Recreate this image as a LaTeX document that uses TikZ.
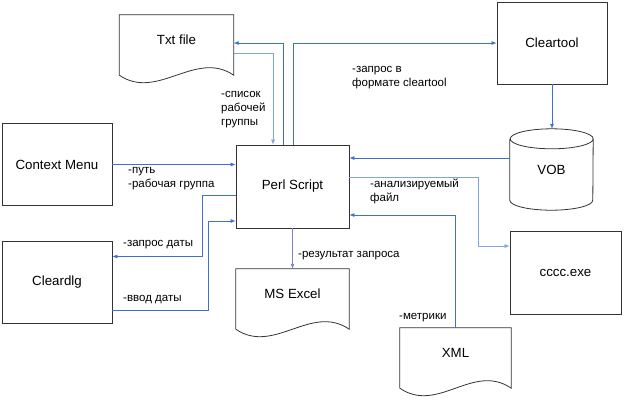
\documentclass[tikz,border=0pt]{standalone}
\usepackage{fontspec}
\setmainfont{Liberation Sans}
\usetikzlibrary{arrows.meta, positioning}

\definecolor{linkblue}{RGB}{62,112,205}
\definecolor{linkpale}{RGB}{125,165,225}
\definecolor{linkviolet}{RGB}{128,128,212}

\begin{document}
\begin{tikzpicture}[
  x=1pt, y=-1pt,
  font=\fontsize{13.3}{16}\selectfont,
  box/.style={draw=black!80, line width=0.8pt, align=center, minimum width=110pt, minimum height=82pt, inner sep=0pt},
  docbox/.style={align=center, minimum width=114pt, minimum height=50pt, inner sep=0pt},
  store/.style={align=center, minimum width=83pt, minimum height=81pt, inner sep=0pt},
  outline/.style={draw=black!80, line width=0.8pt},
  arrow/.style={-{Latex[length=5pt, width=4pt]}, draw=linkblue, line width=0.7pt},
  link/.style={draw=linkblue, line width=0.7pt},
  note/.style={font=\fontsize{11.5}{14}\selectfont, align=left, anchor=west, inner sep=0pt}
]
  \useasboundingbox (0,0) rectangle (624,400);

  % boxes
  \node[box] (ctx) at (57,164.5) {Context Menu};
  \node[box] (dlg) at (57,282.5) {Cleardlg};
  \node[box, minimum width=113pt, minimum height=83pt] (perl) at (292.5,186.5) {Perl Script};
  \node[box] (ctool) at (552,43) {Cleartool};
  \node[box, minimum width=111pt, minimum height=83pt] (cccc) at (565.5,272.5) {cccc.exe};

  % documents
  \node[docbox] (txt) at (176.5,40) {Txt file};
  \node[docbox, minimum width=113pt] (excel) at (292.5,294) {MS Excel};
  \node[docbox, minimum width=111pt] (xml) at (455.5,353) {XML};
  \foreach \d in {txt,excel,xml}
    \draw[outline] ([yshift=-10pt]\d.south west) -- (\d.north west) -- (\d.north east)
      -- ([yshift=-10pt]\d.south east) .. controls +(-38pt,26pt) and +(38pt,-26pt) .. ([yshift=-10pt]\d.south west);

  % VOB
  \node[store] (vob) at (551.5,169.5) {VOB};
  \draw[outline] ([yshift=-10pt]vob.north west) -- ([yshift=10pt]vob.south west)
    arc[start angle=180, end angle=360, x radius=41.5pt, y radius=10pt]
    -- ([yshift=-10pt]vob.north east)
    arc[start angle=0, end angle=180, x radius=41.5pt, y radius=10pt]
    arc[start angle=180, end angle=360, x radius=41.5pt, y radius=10pt];

  % connectors
  \draw[arrow] ([xshift=-9.5pt]perl.north) |- ([yshift=-3pt]txt.east);
  \draw[arrow, draw=linkpale] ([yshift=-13pt]txt.east) -| ([xshift=-19.5pt]perl.north);
  \draw[arrow] ([xshift=0.5pt]perl.north) |- (ctool.west);
  \draw[arrow] (ctool.south) -- (ctool.south |- vob.north);
  \draw[arrow] ([yshift=11.5pt]vob.west) -- ([yshift=11.5pt]vob.west -| perl.east);
  \draw[arrow, draw=linkpale] ([yshift=9.5pt]perl.east) -- ++(129pt,0) |- ([yshift=26.5pt]cccc.west);
  \draw[arrow] (xml.north) |- ([yshift=-28.5pt]perl.east);
  \draw[arrow, draw=linkviolet] (perl.south) -- (excel.north);
  \draw[arrow] (ctx.east) -- (ctx.east -| perl.west);
  \draw[arrow] ([yshift=-8.5pt]perl.west) -- ++(-33pt,0) |- ([yshift=26pt]dlg.east);
  \draw[arrow] ([yshift=-27.5pt]dlg.east) -- ++(96pt,0) |- ([yshift=-34.5pt]perl.west);

  % labels
  \node[note] (l-list) at (221,110) {-список\\рабочей\\группы};
  \node[note] (l-query) at (352,78) {-запрос в\\формате cleartool};
  \node[note] (l-path) at (128,179) {-путь\\-рабочая группа};
  \node[note] (l-date) at (123,245) {-запрос даты};
  \node[note] (l-input) at (123,300) {-ввод даты};
  \node[note] (l-result) at (298,256) {-результат запроса};
  \node[note] (l-file) at (370,191) {-анализируемый\\файл};
  \node[note] (l-metric) at (399,318) {-метрики};
\end{tikzpicture}
\end{document}
